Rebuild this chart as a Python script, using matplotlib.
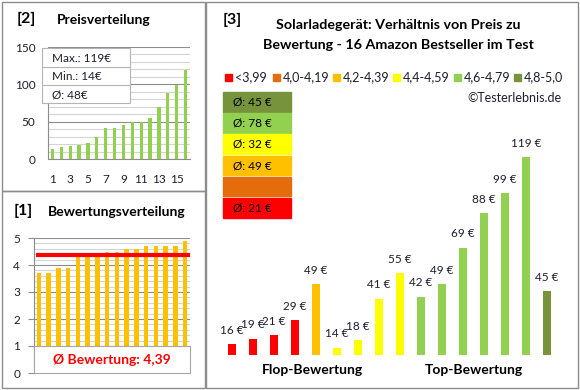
import matplotlib
matplotlib.use("Agg")
import matplotlib.pyplot as plt
from matplotlib.patches import Rectangle
import numpy as np

plt.rcParams['font.family'] = ['Lato', 'DejaVu Sans']

# Produkte: Bewertung und Preis (Reihenfolge wie im rechten Diagramm)
ratings = [3.7, 3.7, 3.9, 3.9, 4.3, 4.4, 4.4, 4.5, 4.5, 4.6, 4.6, 4.7, 4.7, 4.7, 4.7, 4.9]
prices = [16, 19, 21, 29, 49, 14, 18, 41, 55, 42, 49, 69, 88, 99, 119, 45]

# Bewertungsklassen
class_labels = ['<3,99', '4,0-4,19', '4,2-4,39', '4,4-4,59', '4,6-4,79', '4,8-5,0']
class_edges = [0, 4.0, 4.2, 4.4, 4.6, 4.8, 5.01]
class_colors = ['#FF0000', '#E46C0A', '#FFC000', '#FFFF00', '#92D050', '#77933C']

W, H = 580, 390
fig = plt.figure(figsize=(W / 100, H / 100), dpi=100)


def rect(x0, y0, x1, y1):
    # Pixelkoordinaten (oben links) -> Figure-Koordinaten
    return [x0 / W, 1 - y1 / H, (x1 - x0) / W, (y1 - y0) / H]


def cls(r):
    return int(np.searchsorted(class_edges, r, side='right') - 1)


ratings = np.array(ratings)
prices = np.array(prices)
n = len(prices)
x = np.arange(1, n + 1)
grid_minor = '#D4D4D4'
grid_major = '#8C8C8C'
txt = '#1E1E2E'

# [2] Preisverteilung
ax1 = fig.add_axes(rect(48, 47, 190, 159))
ax1.bar(x, np.sort(prices), width=0.38, color='#92D050', zorder=3)
ax1.set_xlim(0.5, n + 0.5)
ax1.set_ylim(0, 150)
ax1.set_yticks([0, 50, 100, 150])
ax1.set_yticks(np.arange(0, 151, 10), minor=True)
ax1.set_xticks(range(1, n, 2))
ax1.grid(axis='y', which='minor', color=grid_minor, lw=0.8, zorder=0)
ax1.grid(axis='y', which='major', color=grid_major, lw=0.8, zorder=1)
ax1.tick_params(axis='y', which='both', length=0, pad=9, labelsize=8.5, labelcolor=txt)
ax1.tick_params(axis='x', length=0, pad=11, labelsize=8.5, labelcolor=txt)
for s in ['top', 'right']:
    ax1.spines[s].set_visible(False)
for s in ['left', 'bottom']:
    ax1.spines[s].set_color(grid_major)

# [1] Bewertungsverteilung
avg_rating = ratings.mean()
ax2 = fig.add_axes(rect(34, 238, 190, 373))
ax2.bar(x, np.sort(ratings), width=0.45, color='#FFC000', zorder=3)
ax2.hlines(avg_rating, 0.75, n + 0.5, color='#FF0000', lw=3, zorder=4)
ax2.set_xlim(0.5, n + 0.5)
ax2.set_ylim(0, 5)
ax2.set_yticks(range(6))
ax2.set_yticks(np.arange(0, 5.01, 0.2), minor=True)
ax2.set_xticks([])
ax2.grid(axis='y', which='minor', color=grid_minor, lw=0.8, zorder=0)
ax2.grid(axis='y', which='major', color=grid_major, lw=0.8, zorder=1)
ax2.tick_params(axis='y', which='major', length=4, color=grid_major, pad=6,
                labelsize=8.5, labelcolor=txt)
ax2.tick_params(axis='y', which='minor', length=0)
for s in ['top', 'right', 'bottom']:
    ax2.spines[s].set_visible(False)
ax2.spines['left'].set_color(grid_major)
ax2.add_patch(Rectangle((0.5, 0), n, 1, facecolor='white', edgecolor='#A6A6A6',
                        lw=0.8, zorder=5, clip_on=False))
ax2.text(n / 2 + 0.5, 0.5, 'Ø Bewertung: ' + f'{avg_rating:.2f}'.replace('.', ','),
         color='#FF0000', fontsize=10, fontweight='bold', ha='center', va='center', zorder=6)

# [3] Preis zu Bewertung
ax3 = fig.add_axes(rect(221.5, 137, 557.5, 355))
bar_colors = [class_colors[cls(r)] for r in ratings]
ax3.bar(x, prices, width=0.38, color=bar_colors)
for xi, p in zip(x, prices):
    ax3.annotate(f'{p} €', (xi, p), xytext=(0, 10), textcoords='offset points',
                 ha='center', va='center', fontsize=8.5, color=txt)
ax3.set_xlim(0.5, n + 0.5)
ax3.set_ylim(10, 130)
ax3.axis('off')

# Rahmen, Titel, Legende
ov = fig.add_axes([0, 0, 1, 1])
ov.set_xlim(0, W)
ov.set_ylim(H, 0)
ov.axis('off')
ov.patch.set_alpha(0)
for (x0, y0, w, h) in [(2, 2, 203, 189), (2, 191, 203, 197), (206, 2, 372, 386)]:
    ov.add_patch(Rectangle((x0, y0), w, h, fill=False, edgecolor='#8C8C8C', lw=1))

ov.text(17, 19, '[2]', fontsize=11.5, fontweight='bold', va='center')
ov.text(57, 20, 'Preisverteilung', fontsize=10, fontweight='bold', va='center')
ov.text(14, 211, '[1]', fontsize=11.5, fontweight='bold', va='center')
ov.text(48, 212, 'Bewertungsverteilung', fontsize=10, fontweight='bold', va='center')
ov.text(223, 20, '[3]', fontsize=11.5, fontweight='bold', va='center')
ov.text(398, 25, 'Solarladegerät: Verhältnis von Preis zu', fontsize=10.3,
        fontweight='bold', ha='center', va='center')
ov.text(398, 45, 'Bewertung - 16 Amazon Bestseller im Test', fontsize=10.3,
        fontweight='bold', ha='center', va='center')
ov.text(562, 98, '©Testerlebnis.de', fontsize=9, ha='right', va='center', color=txt)

# Info-Box Preise
ov.add_patch(Rectangle((42, 48), 88, 55, facecolor='white', edgecolor='#B4B4B4', lw=0.8))
ov.plot([42, 130], [67, 67], color='#B4B4B4', lw=0.8)
ov.plot([42, 130], [85, 85], color='#B4B4B4', lw=0.8)
info = [f'Max.: {prices.max()}€', f'Min.: {prices.min()}€', f'Ø: {prices.mean():.0f}€']
for i, t in enumerate(info):
    ov.text(52, 58 + i * 18.5, t, fontsize=8.5, va='center', color=txt)

# Legende
leg_x = [225, 273, 333, 393, 454, 514]
for lx, lab, col in zip(leg_x, class_labels, class_colors):
    ov.add_patch(Rectangle((lx, 74), 7, 7, color=col))
    ov.text(lx + 10, 77.5, lab, fontsize=9, va='center', color=txt)

# Durchschnittspreise je Klasse (von oben: beste Klasse)
for i, k in enumerate(range(len(class_labels) - 1, -1, -1)):
    top = 92 + i * 21.2
    ov.add_patch(Rectangle((223, top), 68, 19.5, color=class_colors[k]))
    sel = prices[[cls(r) == k for r in ratings]]
    if len(sel):
        ov.text(233, top + 10, f'Ø: {sel.mean():.0f} €', fontsize=8.5, va='center', color='black')

ov.text(312, 370, 'Flop-Bewertung', fontsize=10, fontweight='bold', ha='center', va='center')
ov.text(474, 370, 'Top-Bewertung', fontsize=10, fontweight='bold', ha='center', va='center')

fig.savefig('out.png', dpi=100)
